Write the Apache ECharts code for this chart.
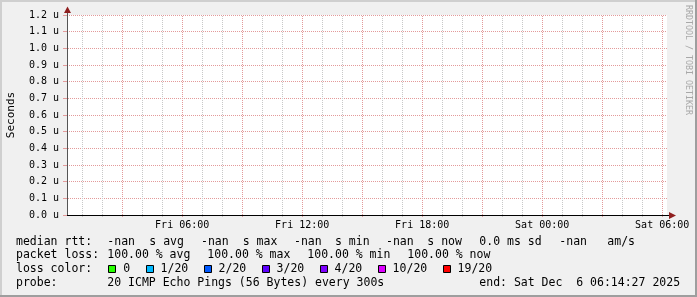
<!DOCTYPE html>
<html><head><meta charset="utf-8">
<script src="https://cdn.jsdelivr.net/npm/echarts@6/dist/echarts.min.js"></script>
<style>html,body{margin:0;padding:0;background:#f0f0f0}#c{width:697px;height:297px}</style>
</head><body><div id="c"></div>
<script>
// x values: hours since Fri Dec 5 2025 00:00
const endHour = 30 + 14 / 60 + 27 / 3600;
const spanHours = 30;
const minorHours = [1,2,4,5,7,8,10,11,13,14,16,17,19,20,22,23,25,26,28,29];
const majorHours = [3,6,9,12,15,18,21,24,27,30];
const labelHours = [6,12,18,24,30];
const labelTexts = ['Fri 06:00','Fri 12:00','Fri 18:00','Sat 00:00','Sat 06:00'];
const yMin = 0, yMax = 1.2, yStep = 0.1;
const yUnit = 'u';
const yName = 'Seconds';
const rttSeconds = []; // every sample is NaN (100% loss)
const statNames = ['avg','max','min','now'];
const rttStats = ['-nan','-nan','-nan','-nan'];
const lossStats = ['100.00','100.00','100.00','100.00'];
const rttSd = '0.0 ms sd';
const amPerS = '-nan';
const lossLevels = ['0','1/20','2/20','3/20','4/20','10/20','19/20'];
const lossColors = ['#26ff00','#00b8ff','#0059ff','#5e00ff','#7e00ff','#dd00ff','#ff0000'];
const probeText = '20 ICMP Echo Pings (56 Bytes) every 300s';
const endText = 'end: Sat Dec  6 06:14:27 2025';
const watermark = 'RRDTOOL / TOBI OETIKER';

const MONO = "'DejaVu Sans Mono', monospace";
const LF = 11.5, CW = 6.93;
const minorC = '#c8c8c8';
const majorC = '#e39a9a';
const arrowC = '#8f1f1f';

// dotted stroke via a 2x2 checker pattern
function dots(color) {
  const c = document.createElement('canvas');
  c.width = 2; c.height = 2;
  const ctx = c.getContext('2d');
  ctx.fillStyle = color;
  ctx.fillRect(0, 0, 1, 1);
  ctx.fillRect(1, 1, 1, 1);
  return {image: c, repeat: 'repeat'};
}
const minorDots = dots(minorC), majorDots = dots(majorC);

function txt(x, y, s, extra) {
  return Object.assign({type:'text', x:x, y:y, silent:true,
    style:{text:s, fill:'#000', font: LF + 'px ' + MONO, textVerticalAlign:'middle'}}, extra || {});
}
const g = [];
// frame shading
g.push({type:'rect', shape:{x:0,y:0,width:697,height:2}, style:{fill:'#cfcfcf'}, z:-1});
g.push({type:'rect', shape:{x:0,y:0,width:2,height:297}, style:{fill:'#cfcfcf'}, z:-1});
g.push({type:'rect', shape:{x:0,y:295,width:697,height:2}, style:{fill:'#9e9e9e'}, z:-1});
g.push({type:'rect', shape:{x:695,y:0,width:2,height:297}, style:{fill:'#9e9e9e'}, z:-1});
// arrows
g.push({type:'line', shape:{x1:667,y1:215.5,x2:670,y2:215.5}, style:{stroke:'#000',lineWidth:1}, z:5});
g.push({type:'polygon', shape:{points:[[669,212],[676,215.5],[669,219]]}, style:{fill:arrowC}, z:6});
g.push({type:'line', shape:{x1:67.5,y1:15,x2:67.5,y2:11}, style:{stroke:'#555',lineWidth:1}, z:5});
g.push({type:'polygon', shape:{points:[[64,13],[67.5,6.5],[71,13]]}, style:{fill:arrowC}, z:6});
// watermark
g.push({type:'text', x:692, y:5, rotation:-Math.PI/2, silent:true,
  style:{text:watermark, fill:'#a8a8a8', font:'8.3px ' + MONO, textAlign:'left', textVerticalAlign:'top'}});
// legend rows
const r1 = 241.7, r2 = 255.0, r3 = 269.3, r4 = 282.7;
g.push(txt(16, r1, 'median rtt:'));
const nanX = [107.3, 201, 294, 386];
const sX = [149.3, 242.7, 335, 427.3];
for (let i = 0; i < 4; i++) {
  g.push(txt(nanX[i], r1, rttStats[i]));
  g.push(txt(sX[i], r1, 's ' + statNames[i]));
}
g.push(txt(479.3, r1, rttSd));
g.push(txt(559.3, r1, amPerS));
g.push(txt(607.3, r1, 'am/s'));
g.push(txt(16, r2, 'packet loss:'));
for (let i = 0; i < 4; i++) g.push(txt(107.3 + 100 * i, r2, lossStats[i] + ' % ' + statNames[i]));
g.push(txt(16, r3, 'loss color:'));
let bx = 108.3;
for (let i = 0; i < lossLevels.length; i++) {
  g.push({type:'rect', shape:{x:Math.round(bx)+0.5, y:265.5, width:7, height:7},
    style:{fill:lossColors[i], stroke:'#000', lineWidth:1}});
  const lx = bx + 15;
  g.push(txt(lx, r3, lossLevels[i]));
  bx = lx + lossLevels[i].length * CW + 15.3;
}
g.push(txt(16, r4, 'probe:'));
g.push(txt(107.3, r4, probeText));
g.push(txt(479.3, r4, endText));

// vertical grid lines drawn through the x scale, snapped to the pixel grid
function gridSeries(hours, pattern) {
  return {type:'custom', silent:true, clip:false, z:1,
    data: hours.map(h => [h, yMin]),
    encode:{x:0, y:1},
    renderItem: (params, api) => {
      const top = api.coord([api.value(0), yMax]);
      const bot = api.coord([api.value(0), yMin]);
      const x = Math.round(top[0]) + 0.5;
      return {type:'line', shape:{x1:x, y1:top[1], x2:x, y2:bot[1] + 3},
        style:{stroke:pattern, lineWidth:1}};
    }};
}

const chart = echarts.init(document.getElementById('c'), null, {renderer:'canvas'});
const axisLabelStyle = {fontFamily: MONO, fontSize: 10, color: '#000'};
chart.setOption({
  backgroundColor: '#f0f0f0',
  animation: false,
  grid: {left: 67, top: 15, width: 600, height: 200, show: true, backgroundColor: '#fff',
    borderWidth: 0, containLabel: false, outerBoundsMode: 'none'},
  xAxis: {type:'value', min: endHour - spanHours, max: endHour, position:'bottom',
     axisLine:{show:true, onZero:false, lineStyle:{color:'#000', width:1}},
     axisTick:{show:false},
     axisLabel:{show:true, customValues: labelHours, margin:5, ...axisLabelStyle,
       formatter: v => labelTexts[labelHours.indexOf(Math.round(v))] || ''},
     splitLine:{show:false}},
  yAxis: {type:'value', min:yMin, max:yMax, interval:yStep,
    name: yName, nameLocation:'middle', nameGap:50.5, nameRotate:90,
    nameTextStyle:{fontFamily:MONO, fontSize:11, color:'#000'},
    axisLine:{show:true, lineStyle:{color:'#555', width:1}},
    axisTick:{show:true, length:4, lineStyle:{color:majorC}},
    axisLabel:{margin:8, ...axisLabelStyle, formatter: v => v.toFixed(1) + ' ' + yUnit},
    splitLine:{show:true, lineStyle:{color:majorDots, width:1}}},
  series: [
    {type:'line', name:'median rtt', data: rttSeconds, showSymbol:false, lineStyle:{color:'#26ff00'}},
    gridSeries(minorHours, minorDots),
    gridSeries(majorHours, majorDots)
  ],
  graphic: g
});
</script></body></html>
